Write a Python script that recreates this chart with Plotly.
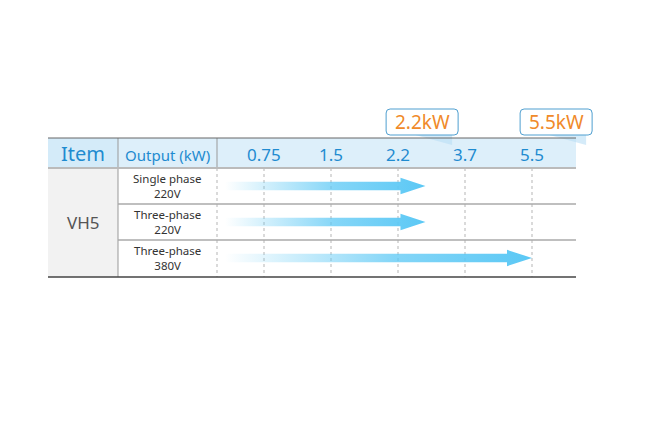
import plotly.graph_objects as go

# data
ratings = ["0.75", "1.5", "2.2", "3.7", "5.5"]
row_line1 = ["Single phase", "Three-phase", "Three-phase"]
row_line2 = ["220V", "220V", "380V"]
row_max = ["2.2", "2.2", "5.5"]
model = "VH5"
callouts = ["2.2", "5.5"]

# layout helpers: one axis pair spanning the whole figure, positions given in page px
X0, DX = 264, 67      # px of first rating, px per rating step
Y0, DY = 186, 36      # px of first row centre, px per row
W, H = 655, 430
PAGE_OFF = 8          # the figure sits 8px in from the page corner


def fx(px):
    return (px - X0) / DX


def fy(px):
    return (px - Y0) / DY


BLUE = "#1f8bd0"
ARROW = "91,200,245"
FONT = "Noto Sans"

# table geometry (px)
T_L, T_C1, T_C2, T_R = 48, 118, 217, 576
H_TOP, H_BOT = 138, 168
ROW_LINES = [204, 240]
T_BOT = 277

fig = go.Figure()

shapes = []
# header band and item body cell
shapes.append(dict(type="rect", x0=fx(T_L), x1=fx(T_R), y0=fy(H_TOP), y1=fy(H_BOT),
                   fillcolor="#ddeffa", line_width=0, layer="below"))
shapes.append(dict(type="rect", x0=fx(T_L), x1=fx(T_C1), y0=fy(H_TOP), y1=fy(H_BOT),
                   fillcolor="#d4ebf9", line_width=0, layer="below"))
shapes.append(dict(type="rect", x0=fx(T_L), x1=fx(T_C1), y0=fy(H_BOT), y1=fy(T_BOT),
                   fillcolor="#f2f2f2", line_width=0, layer="below"))

# dotted grid at each rating + left edge of data area
for i in range(len(ratings)):
    shapes.append(dict(type="line", x0=i, x1=i, y0=fy(H_BOT), y1=fy(T_BOT),
                       line=dict(color="#b5b5b5", width=1, dash="dot"), layer="below"))
shapes.append(dict(type="line", x0=fx(T_C2), x1=fx(T_C2), y0=fy(H_BOT), y1=fy(T_BOT),
                   line=dict(color="#b5b5b5", width=1, dash="dot"), layer="below"))

# solid lines
shapes.append(dict(type="line", x0=fx(T_C1), x1=fx(T_C1), y0=fy(H_TOP), y1=fy(T_BOT),
                   line=dict(color="#999999", width=1)))
shapes.append(dict(type="line", x0=fx(T_C2), x1=fx(T_C2), y0=fy(H_TOP), y1=fy(H_BOT),
                   line=dict(color="#999999", width=1)))
shapes.append(dict(type="line", x0=fx(T_L), x1=fx(T_R), y0=fy(H_TOP), y1=fy(H_TOP),
                   line=dict(color="#666666", width=1)))
shapes.append(dict(type="line", x0=fx(T_L), x1=fx(T_R), y0=fy(H_BOT), y1=fy(H_BOT),
                   line=dict(color="#bbbbbb", width=2)))
for yp in ROW_LINES:
    shapes.append(dict(type="line", x0=fx(T_C1), x1=fx(T_R), y0=fy(yp), y1=fy(yp),
                       line=dict(color="#aaaaaa", width=1.5)))
shapes.append(dict(type="line", x0=fx(T_L), x1=fx(T_R), y0=fy(T_BOT), y1=fy(T_BOT),
                   line=dict(color="#444444", width=1.5)))

# arrows
start = fx(225)
shaft_h = 4.2 / DY
head_h = 8.2 / DY
head_len = 25 / DX
tip_shift = [0.41, 0.41, 0.0]
for r, m in enumerate(row_max):
    tip = ratings.index(m) + tip_shift[r]
    hx = tip - head_len
    xs = [start, hx, hx, tip, hx, hx, start, start]
    ys = [r - shaft_h, r - shaft_h, r - head_h, r, r + head_h, r + shaft_h, r + shaft_h, r - shaft_h]
    fig.add_trace(go.Scatter(
        x=xs, y=ys, mode="lines", fill="toself", line=dict(width=0, color=f"rgba({ARROW},0)"),
        fillgradient=dict(type="horizontal", colorscale=[
            [0, f"rgba({ARROW},0)"], [0.55, f"rgba({ARROW},0.75)"], [1, f"rgba({ARROW},1)"]]),
        hoverinfo="skip", showlegend=False))

# callout boxes
box_shift = 0.36
half_w = 36 / DX
b_top, b_bot = fy(109), fy(135)
rx, ry = 4 / DX, 4 / DY
annotations = []
for c in callouts:
    cx = ratings.index(c) + box_shift
    l, rr = cx - half_w, cx + half_w
    # tail into header
    fig.add_trace(go.Scatter(
        x=[cx - 0.1, rr - 6 / DX, rr - 6 / DX, cx - 0.1],
        y=[b_bot, b_bot, fy(145), b_bot], mode="lines", fill="toself",
        line=dict(width=0, color="rgba(0,0,0,0)"),
        fillcolor="rgba(185,222,245,0.6)", hoverinfo="skip", showlegend=False))
    path = (f"M {l + rx},{b_top} L {rr - rx},{b_top} Q {rr},{b_top} {rr},{b_top + ry} "
            f"L {rr},{b_bot - ry} Q {rr},{b_bot} {rr - rx},{b_bot} "
            f"L {l + rx},{b_bot} Q {l},{b_bot} {l},{b_bot - ry} "
            f"L {l},{b_top + ry} Q {l},{b_top} {l + rx},{b_top} Z")
    shapes.append(dict(type="path", path=path, fillcolor="white",
                       line=dict(color="#4f9fd0", width=1)))
    annotations.append(dict(x=cx, y=(b_top + b_bot) / 2, text=c + "kW", showarrow=False,
                            font=dict(family=FONT, size=19, color="#f08a2a")))

# header texts
annotations.append(dict(x=fx((T_L + T_C1) / 2), y=fy(153), text="Item", showarrow=False,
                        font=dict(family=FONT, size=20, color=BLUE)))
annotations.append(dict(x=fx((T_C1 + T_C2) / 2), y=fy(155), text="Output (kW)", showarrow=False,
                        font=dict(family=FONT, size=15, color=BLUE)))
for i, t in enumerate(ratings):
    annotations.append(dict(x=i, y=fy(154), text=t, showarrow=False,
                            font=dict(family=FONT, size=17, color=BLUE)))

# body texts
annotations.append(dict(x=fx((T_L + T_C1) / 2), y=1, text=model, showarrow=False,
                        font=dict(family=FONT, size=17, color="#555555")))
for r in range(len(row_line1)):
    annotations.append(dict(x=fx((T_C1 + T_C2) / 2), y=r, text=row_line1[r] + "<br>" + row_line2[r],
                            showarrow=False, borderpad=0,
                            font=dict(family=FONT, size=11.5, color="#333333")))

fig.update_layout(
    width=W, height=H, margin=dict(l=0, r=0, t=0, b=0),
    paper_bgcolor="white", plot_bgcolor="white",
    xaxis=dict(range=[fx(PAGE_OFF), fx(PAGE_OFF + W)], visible=False, fixedrange=True),
    yaxis=dict(range=[fy(PAGE_OFF + H), fy(PAGE_OFF)], visible=False, fixedrange=True),
    shapes=shapes, annotations=annotations,
)

fig.write_html("out.html")
